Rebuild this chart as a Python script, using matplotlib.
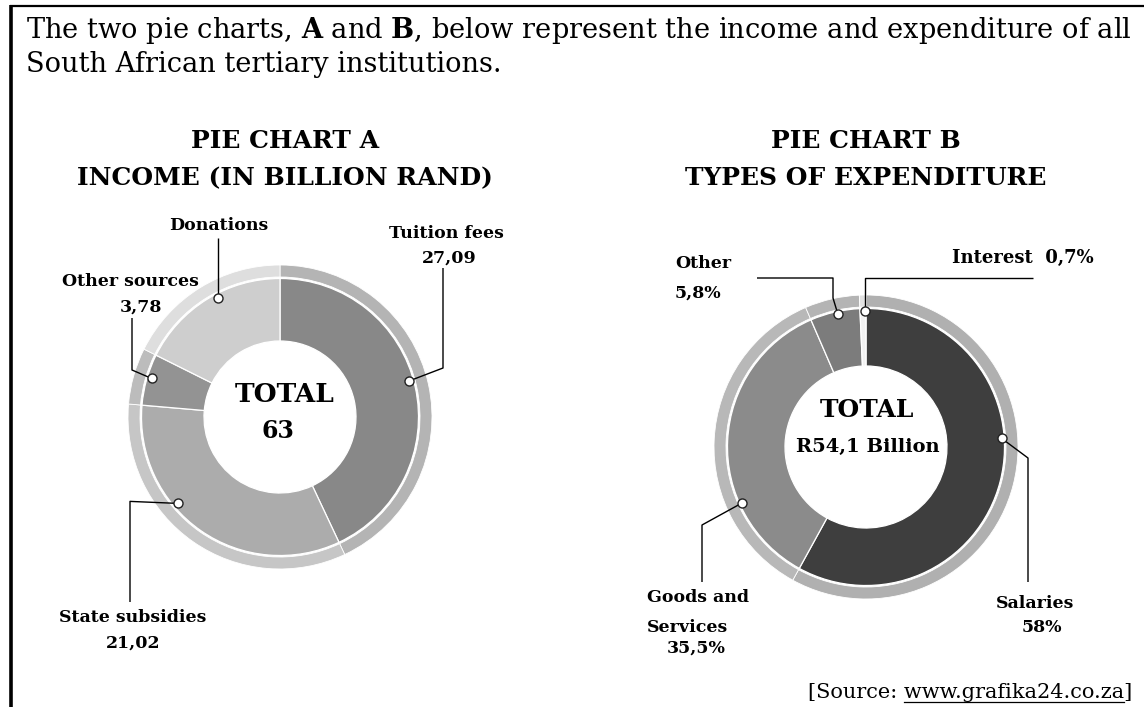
import numpy as np
import matplotlib
matplotlib.use("Agg")
import matplotlib.pyplot as plt

# ---------------- data ----------------
income_labels = ["Tuition fees", "State subsidies", "Other sources", "Donations"]
income_values = [27.09, 21.02, 3.78, 11.11]
income_total = "63"

exp_labels = ["Salaries", "Goods and\nServices", "Other", "Interest"]
exp_values = [58.0, 35.5, 5.8, 0.7]
exp_total = "R54,1 Billion"

intro_line1 = r"The two pie charts, $\mathbf{A}$ and $\mathbf{B}$, below represent the income and expenditure of all"
intro_line2 = "South African tertiary institutions."
title_a = ["PIE CHART A", "INCOME (IN BILLION RAND)"]
title_b = ["PIE CHART B", "TYPES OF EXPENDITURE"]
source_prefix = "[Source: "
source_url = "www.grafika24.co.za"
source_suffix = "]"

# ---------------- style ----------------
income_colors = ["#888888", "#acacac", "#939393", "#cecece"]
income_rim = ["#b4b4b4", "#c6c6c6", "#bcbcbc", "#dedede"]
exp_colors = ["#3e3e3e", "#8b8b8b", "#7c7c7c", "#f2f2f2"]
exp_rim = ["#b0b0b0", "#b8b8b8", "#b4b4b4", "#e2e2e2"]

W, H = 1144, 707
plt.rcParams["mathtext.fontset"] = "dejavuserif"
SERIF = "DejaVu Serif"

fig = plt.figure(figsize=(W / 100, H / 100), dpi=100)
ax = fig.add_axes([0, 0, 1, 1])


def Y(y):
    return H - y


def T(x, y, s, size=12.5, bold=True, ha="center", va="center", **kw):
    return ax.text(x, Y(y), s, fontsize=size, family=SERIF,
                   fontweight="bold" if bold else "normal",
                   ha=ha, va=va, color="black", **kw)


def donut(cx, cy, values, colors, rims, r_out, r_rim, r_in):
    ax.pie(values, colors=rims, radius=r_out, center=(cx, Y(cy)),
           startangle=90, counterclock=False,
           wedgeprops=dict(width=r_out - r_rim, edgecolor="white", linewidth=0.6))
    ax.pie(values, colors=colors, radius=r_rim - 1.5, center=(cx, Y(cy)),
           startangle=90, counterclock=False,
           wedgeprops=dict(width=r_rim - 1.5 - r_in, edgecolor="white", linewidth=0.9))


def marker_pos(cx, cy, values, idx, r, shift):
    tot = float(sum(values))
    start = sum(values[:idx]) / tot * 360.0
    mid = start + values[idx] / tot * 360.0 / 2.0 + shift
    th = np.radians(mid)
    return cx + r * np.sin(th), cy - r * np.cos(th)


def leader(points):
    xs = [p[0] for p in points]
    ys = [Y(p[1]) for p in points]
    ax.plot(xs, ys, color="black", lw=1.0, solid_capstyle="butt", zorder=5)


def dot(p):
    ax.plot([p[0]], [Y(p[1])], marker="o", ms=6.5, mfc="white", mec="#222222",
            mew=1.0, zorder=6)


# ---------------- pies ----------------
A_c = (280, 417)
B_c = (866, 447)
donut(A_c[0], A_c[1], income_values, income_colors, income_rim, 152, 140, 76)
donut(B_c[0], B_c[1], exp_values, exp_colors, exp_rim, 152, 140, 81)

ax.set_xlim(0, W)
ax.set_ylim(0, H)
ax.set_aspect("equal")
ax.axis("off")

# ---------------- intro text (fit line 1 to the box width) ----------------
renderer = fig.canvas.get_renderer()
t1 = ax.text(26, Y(30), intro_line1, fontsize=17, family=SERIF, ha="left", va="center")
w = t1.get_window_extent(renderer).width
fs = 17 * (1135 - 26) / w
t1.set_fontsize(fs)
ax.text(26, Y(65), intro_line2, fontsize=fs, family=SERIF, ha="left", va="center")

# ---------------- titles ----------------
T(285, 141, title_a[0], size=18)
T(285, 178, title_a[1], size=18)
T(866, 141, title_b[0], size=18)
T(866, 178, title_b[1], size=18)

# ---------------- centre totals ----------------
T(285, 395, "TOTAL", size=19)
T(278, 431, income_total, size=17)
T(867, 410, "TOTAL", size=18)
T(868, 447, exp_total, size=14)


def fmt(v, pct=False):
    s = ("%g" % v) if pct else ("%.2f" % v)
    s = s.replace(".", ",")
    return s + ("%" if pct else "")


# ---------------- income labels ----------------
mA = [marker_pos(A_c[0], A_c[1], income_values, i, 134, s)
      for i, s in enumerate([-3, 15, 1, 4])]
# Tuition fees
T(446, 233, income_labels[0])
T(449, 258, fmt(income_values[0]))
leader([(443, 268), (443, 368), mA[0]])
# State subsidies
leader([mA[1], (130, mA[1][1] - 2), (130, 602)])
T(133, 617, income_labels[1])
T(133, 643, fmt(income_values[1]))
# Other sources
T(130, 282, income_labels[2])
T(141, 307, fmt(income_values[2]))
leader([(132, 318), (132, 370), mA[2]])
# Donations
T(219, 226, income_labels[3])
leader([(mA[3][0], 238), mA[3]])
for p in mA:
    dot(p)

# ---------------- expenditure labels ----------------
mB = [marker_pos(B_c[0], B_c[1], exp_values, i, 136, s)
      for i, s in enumerate([-18, -27, 1, 0.8])]
# Salaries
T(1035, 603, exp_labels[0])
T(1042, 628, fmt(exp_values[0], True))
leader([mB[0], (1028, 458), (1028, 582)])
# Goods and Services
g1, g2 = exp_labels[1].split("\n")
T(647, 598, g1, ha="left")
T(647, 627, g2, ha="left")
T(696, 648, fmt(exp_values[1], True))
leader([mB[1], (702, 525), (702, 582)])
# Other
T(675, 263, exp_labels[2], ha="left")
T(675, 293, fmt(exp_values[2], True), ha="left")
leader([(757, 278), (833, 278), (833, 298), mB[2]])
# Interest
T(952, 258, exp_labels[3] + "  " + fmt(exp_values[3], True), ha="left", size=13)
leader([(1033, 278), (mB[3][0], 278), mB[3]])
for p in mB:
    dot(p)

# ---------------- source ----------------
src_fs = 15
ts = ax.text(1132, Y(692), source_prefix + source_url + source_suffix, fontsize=src_fs,
             family=SERIF, ha="right", va="center")
full_w = ts.get_window_extent(renderer).width
tmp = ax.text(0, 0, source_prefix, fontsize=src_fs, family=SERIF)
pre_w = tmp.get_window_extent(renderer).width
tmp.remove()
tmp = ax.text(0, 0, source_suffix, fontsize=src_fs, family=SERIF)
suf_w = tmp.get_window_extent(renderer).width
tmp.remove()
x0 = 1132 - full_w + pre_w
x1 = 1132 - suf_w
ax.plot([x0, x1], [Y(702), Y(702)], color="black", lw=0.9)

# ---------------- frame lines ----------------
ax.plot([11, 11], [Y(5), Y(707)], color="black", lw=2.6, solid_capstyle="butt")
ax.plot([10, W], [Y(6), Y(6)], color="black", lw=1.6, solid_capstyle="butt")

fig.savefig("out.png", dpi=100, facecolor="white")
